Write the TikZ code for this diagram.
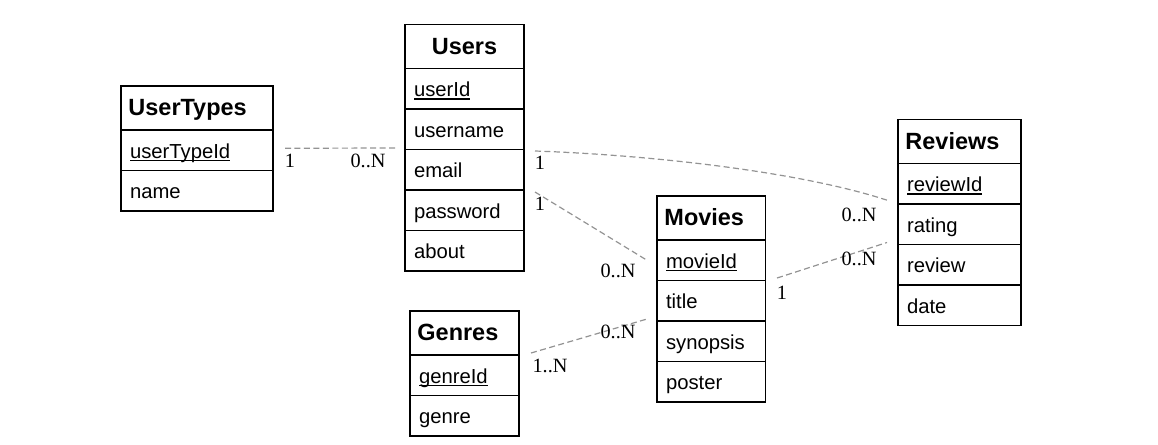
\documentclass[tikz,border=0pt]{standalone}
\usepackage{fontspec}
\setmainfont{Liberation Serif}
\newfontfamily\arialf{Liberation Sans}
\usetikzlibrary{calc}
\newcommand\keyattr[1]{\setbox0\hbox{#1}\rlap{\vrule width\wd0 height -1.3pt depth 2.4pt}\box0}
\tikzset{
  tbl/.style={draw=black, line width=1pt, outer sep=0pt, anchor=north west, inner ysep=0pt, align=left},
  hcell/.style={tbl, inner xsep=5.6pt, text height=14.7pt, text depth=2.9pt,
    font=\arialf\bfseries\fontsize{17.6}{20}\selectfont, minimum height=33pt},
  bcell/.style={tbl, inner xsep=6.75pt, text height=13.6pt, text depth=1.6pt,
    font=\arialf\fontsize{15.2}{18}\selectfont, minimum height=30.375pt},
  lbl/.style={inner sep=0pt, font=\fontsize{15.2}{18}\selectfont},
  rel/.style={draw=gray!85, line width=0.9pt, dash pattern=on 4.5pt off 2.6pt}
}
\begin{document}
\begin{tikzpicture}[x=0.75pt,y=-0.75pt]
\useasboundingbox (0,0) rectangle (1158,444);
% UserTypes (W=152)
\node[hcell, text width=102.8pt] (ut) at (121,86) {UserTypes};
\node[bcell, text width=100.5pt] (ut-id) at (ut.south west) {\keyattr{userTypeId}};
\node[bcell, text width=100.5pt] (ut-name) at (ut-id.south west) {name};
% Users (W=119)
\node[hcell, text width=78.05pt, align=center] (users) at (405,24.5) {Users};
\node[bcell, text width=75.75pt] (users-id) at (users.south west) {\keyattr{userId}};
\node[bcell, text width=75.75pt] (users-name) at (users-id.south west) {username};
\node[bcell, text width=75.75pt] (users-email) at (users-name.south west) {email};
\node[bcell, text width=75.75pt] (users-pass) at (users-email.south west) {password};
\node[bcell, text width=75.75pt] (users-about) at (users-pass.south west) {about};
% Reviews (W=123)
\node[hcell, text width=81.05pt] (rev) at (898,119.5) {Reviews};
\node[bcell, text width=78.75pt] (rev-id) at (rev.south west) {\keyattr{reviewId}};
\node[bcell, text width=78.75pt] (rev-rating) at (rev-id.south west) {rating};
\node[bcell, text width=78.75pt] (rev-review) at (rev-rating.south west) {review};
\node[bcell, text width=78.75pt] (rev-date) at (rev-review.south west) {date};
% Movies (W=108.5)
\node[hcell, text width=70.2pt] (mov) at (657,196) {Movies};
\node[bcell, text width=67.9pt] (mov-id) at (mov.south west) {\keyattr{movieId}};
\node[bcell, text width=67.9pt] (mov-title) at (mov-id.south west) {title};
\node[bcell, text width=67.9pt] (mov-syn) at (mov-title.south west) {synopsis};
\node[bcell, text width=67.9pt] (mov-poster) at (mov-syn.south west) {poster};
% Genres (W=109)
\node[hcell, text width=70.55pt] (gen) at (410,311) {Genres};
\node[bcell, text width=68.25pt] (gen-id) at (gen.south west) {\keyattr{genreId}};
\node[bcell, text width=68.25pt] (gen-genre) at (gen-id.south west) {genre};
% relationships
\draw[rel] ($(ut-id.east)+(12,-2)$) -- ($(users-name.south west)+(-10,-1.5)$);
\draw[rel] ($(users-name.south east)+(11,1.5)$) .. controls +(115,4) and +(-88,-29) .. ($(rev-id.south west)+(-10,-3.5)$);
\draw[rel] ($(users-pass.north east)+(11,2)$) -- ($(mov-id.west)+(-10,0)$);
\draw[rel] ($(mov-id.south east)+(11.5,-2.5)$) -- ($(rev-rating.south west)+(-11,-2)$);
\draw[rel] ($(gen.south east)+(12,-2)$) -- ($(mov-title.south west)+(-10,-2)$);
% multiplicities
\node[lbl] (m1) at (290,161) {1};
\node[lbl] (m2) at (368,161) {0..N};
\node[lbl] (m3) at (540,163) {1};
\node[lbl] (m4) at (540,204) {1};
\node[lbl] (m5) at (618,271) {0..N};
\node[lbl] (m6) at (618,332) {0..N};
\node[lbl] (m7) at (550,366) {1..N};
\node[lbl] (m8) at (859,215) {0..N};
\node[lbl] (m9) at (859,259) {0..N};
\node[lbl] (m10) at (782,293) {1};
\end{tikzpicture}
\end{document}
